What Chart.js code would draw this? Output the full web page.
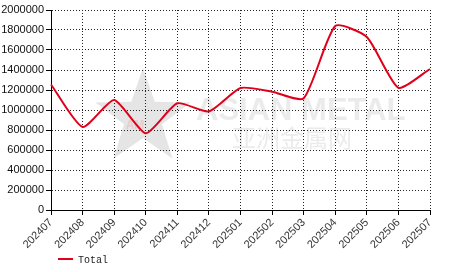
<!DOCTYPE html>
<html>
<head>
<meta charset="utf-8">
<script src="https://cdn.jsdelivr.net/npm/chart.js@4.4.1/dist/chart.umd.min.js"></script>
<style>
html,body{margin:0;padding:0;background:#fff;}
#wrap{width:466px;height:272px;position:relative;}
</style>
</head>
<body>
<div id="wrap"><canvas id="c" width="466" height="272"></canvas></div>
<script>
const categories = ["202407","202408","202409","202410","202411","202412","202501","202502","202503","202504","202505","202506","202507"];
const totalValues = [1255000, 830000, 1100000, 767000, 1067000, 985000, 1220000, 1183000, 1117000, 1840000, 1730000, 1222000, 1410000];
const seriesName = "Total";
const yMin = 0, yMax = 2000000, yStep = 200000;

const watermark = {
  id: 'watermark',
  beforeDraw(chart) {
    const ctx = chart.ctx;
    ctx.save();
    const cx = 143, cy = 118, R = 50, r = 20;
    ctx.beginPath();
    for (let i = 0; i < 10; i++) {
      const a = -Math.PI / 2 + i * Math.PI / 5;
      const rr = i % 2 === 0 ? R : r;
      const x = cx + rr * Math.cos(a), y = cy + rr * Math.sin(a);
      if (i === 0) ctx.moveTo(x, y); else ctx.lineTo(x, y);
    }
    ctx.closePath();
    ctx.fillStyle = 'rgba(190,190,190,0.4)';
    ctx.fill();
    ctx.font = 'bold 12px "Liberation Sans", Arial, sans-serif';
    ctx.fillStyle = 'rgba(240,150,150,0.35)';
    ctx.textAlign = 'center';
    ctx.textBaseline = 'middle';
    ctx.fillText('AM', cx - 8, cy + 8);
    ctx.fillStyle = 'rgba(210,210,210,0.45)';
    ctx.textAlign = 'left';
    ctx.textBaseline = 'alphabetic';
    ctx.font = 'bold 31px "Liberation Sans", Arial, sans-serif';
    ctx.fillText('ASIAN METAL', 196, 120);
    ctx.font = '24px "Noto Sans CJK SC", sans-serif';
    ctx.fillText('亚洲金属网', 232, 147);
    ctx.restore();
  }
};

const customLegend = {
  id: 'customLegend',
  afterDraw(chart) {
    const ctx = chart.ctx;
    const ds = chart.data.datasets[0];
    ctx.save();
    ctx.strokeStyle = ds.borderColor;
    ctx.lineWidth = 2;
    ctx.beginPath();
    ctx.moveTo(58, 259);
    ctx.lineTo(73, 259);
    ctx.stroke();
    ctx.fillStyle = '#222';
    ctx.font = '10px "Liberation Mono", "DejaVu Sans Mono", monospace';
    ctx.textBaseline = 'middle';
    ctx.textAlign = 'left';
    ctx.fillText(ds.label, 78, 260);
    ctx.restore();
  }
};

new Chart(document.getElementById('c'), {
  type: 'line',
  data: {
    labels: categories,
    datasets: [{
      label: seriesName,
      data: totalValues,
      borderColor: '#e0001b',
      backgroundColor: '#e0001b',
      borderWidth: 2,
      pointRadius: 0,
      tension: 0.2,
      fill: false
    }]
  },
  options: {
    responsive: false,
    animation: false,
    devicePixelRatio: 1,
    layout: { padding: { left: 0, right: 36, top: 10, bottom: 0 } },
    plugins: {
      legend: { display: false },
      tooltip: { enabled: false }
    },
    scales: {
      x: {
        type: 'category',
        offset: false,
        grid: { display: true, color: '#222', lineWidth: 1, tickLength: 5, tickColor: '#000', offset: false },
        border: { display: true, color: '#000', width: 1, dash: [1, 2] },
        ticks: {
          autoSkip: false, maxRotation: 45, minRotation: 45, padding: 1,
          color: '#333',
          font: { family: '"Liberation Sans", Arial, sans-serif', size: 11 }
        },
        afterFit(scale) { scale.height = 62; }
      },
      y: {
        min: yMin, max: yMax,
        grid: { display: true, color: '#222', lineWidth: 1, tickLength: 5, tickColor: '#000' },
        border: { display: true, color: '#000', width: 1, dash: [1, 2] },
        ticks: {
          stepSize: yStep, padding: 2, color: '#111',
          font: { family: '"Liberation Sans", Arial, sans-serif', size: 11 },
          callback: v => String(v)
        },
        afterFit(scale) { scale.width = 51; }
      }
    }
  },
  plugins: [watermark, customLegend]
});
</script>
</body>
</html>
